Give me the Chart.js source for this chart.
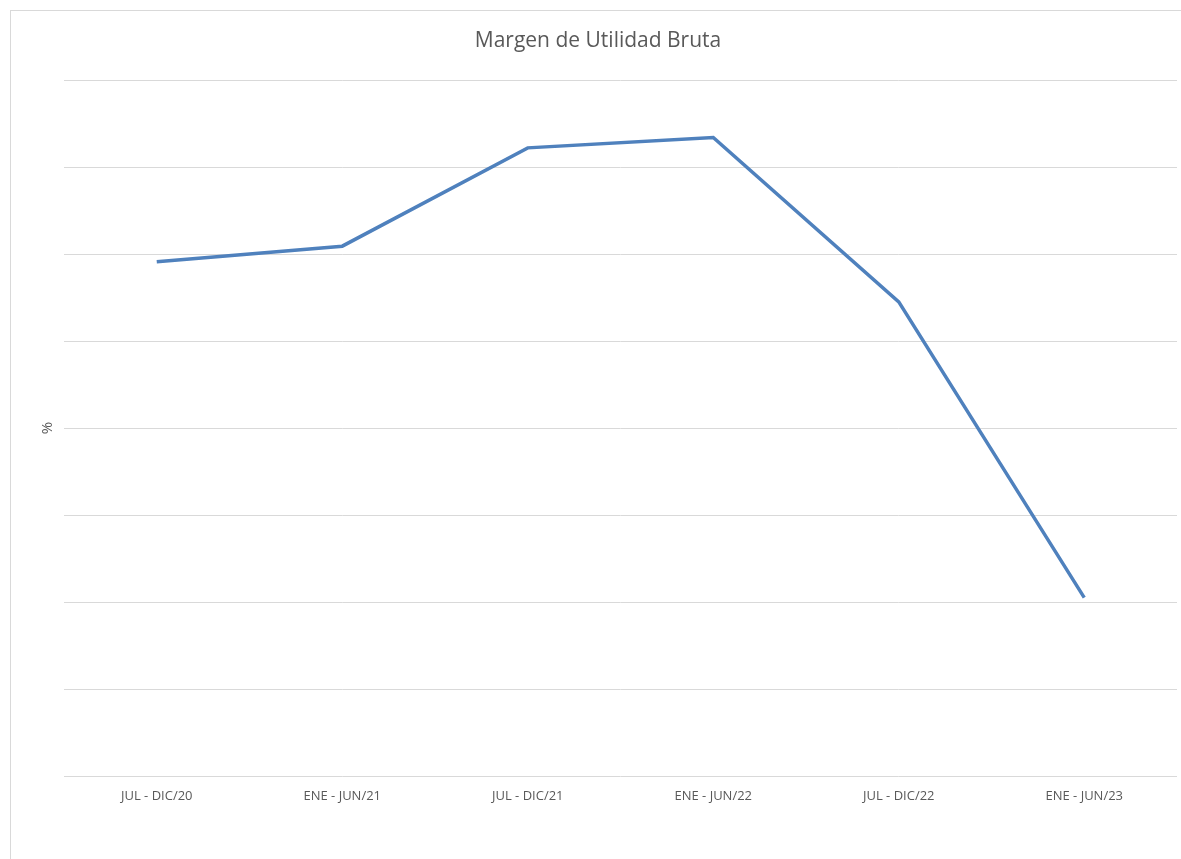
<!DOCTYPE html>
<html lang="es">
<head>
    <meta charset="UTF-8">
    <title>Margen de Utilidad Bruta</title>
    <script src="https://cdn.jsdelivr.net/npm/chart.js"></script>
    <style>
        html, body { margin: 0; padding: 0; background: #fff; }
        #wrap { width: 1181px; height: 859px; position: relative; }
    </style>
</head>
<body>
    <div id="wrap"><canvas id="myChart" width="1181" height="859"></canvas></div>

    <script>
        // datos (%)
        const periodos = ['JUL - DIC/20', 'ENE - JUN/21', 'JUL - DIC/21', 'ENE - JUN/22', 'JUL - DIC/22', 'ENE - JUN/23'];
        const margenBruto = [59.1, 60.9, 72.2, 73.4, 54.5, 20.5];
        const ejeMin = 0;
        const ejeMax = 80;
        const ejePaso = 10;

        const tituloTexto = 'Margen de Utilidad Bruta';
        const ejeYTexto = '%';

        // marco, título y etiqueta del eje Y (como en Excel)
        const marcoPlugin = {
            id: 'marco',
            beforeDraw(chart) {
                const ctx = chart.ctx;
                ctx.save();
                ctx.fillStyle = '#ffffff';
                ctx.fillRect(0, 0, chart.width, chart.height);
                ctx.strokeStyle = '#d9d9d9';
                ctx.lineWidth = 1;
                ctx.strokeRect(10.5, 10.5, 2000, 2000);
                ctx.restore();
            },
            afterDraw(chart) {
                const ctx = chart.ctx;
                const area = chart.chartArea;
                ctx.save();
                ctx.fillStyle = '#595959';
                ctx.textAlign = 'center';
                ctx.textBaseline = 'middle';
                ctx.font = '21px "Open Sans", sans-serif';
                ctx.fillText(tituloTexto, 598, 41);
                ctx.translate(48, (area.top + area.bottom) / 2);
                ctx.rotate(-Math.PI / 2);
                ctx.font = '15px "Open Sans", sans-serif';
                ctx.fillText(ejeYTexto, 0, 0);
                ctx.restore();
            }
        };

        const ctx = document.getElementById('myChart').getContext('2d');
        new Chart(ctx, {
            type: 'line',
            data: {
                labels: periodos,
                datasets: [{
                    label: 'Margen de Utilidad Bruta',
                    data: margenBruto,
                    borderColor: '#4f81bd',
                    borderWidth: 3.5,
                    pointRadius: 0,
                    tension: 0,
                    fill: false
                }]
            },
            options: {
                responsive: false,
                animation: false,
                layout: { padding: { left: 64, top: 80, right: 4, bottom: 0 } },
                plugins: {
                    legend: { display: false },
                    title: { display: false },
                    tooltip: { enabled: false }
                },
                scales: {
                    x: {
                        offset: true,
                        grid: { display: false, drawTicks: false },
                        border: { display: false },
                        ticks: {
                            color: '#595959',
                            font: { family: '"Open Sans", sans-serif', size: 13 },
                            padding: 12,
                            maxRotation: 0
                        },
                        afterFit(scale) { scale.height = 83; }
                    },
                    y: {
                        min: ejeMin,
                        max: ejeMax,
                        ticks: { display: false, stepSize: ejePaso },
                        grid: { color: '#d9d9d9', lineWidth: 1, drawTicks: false },
                        border: { display: false },
                        afterFit(scale) { scale.width = 0; }
                    }
                }
            },
            plugins: [marcoPlugin]
        });
    </script>
</body>
</html>
